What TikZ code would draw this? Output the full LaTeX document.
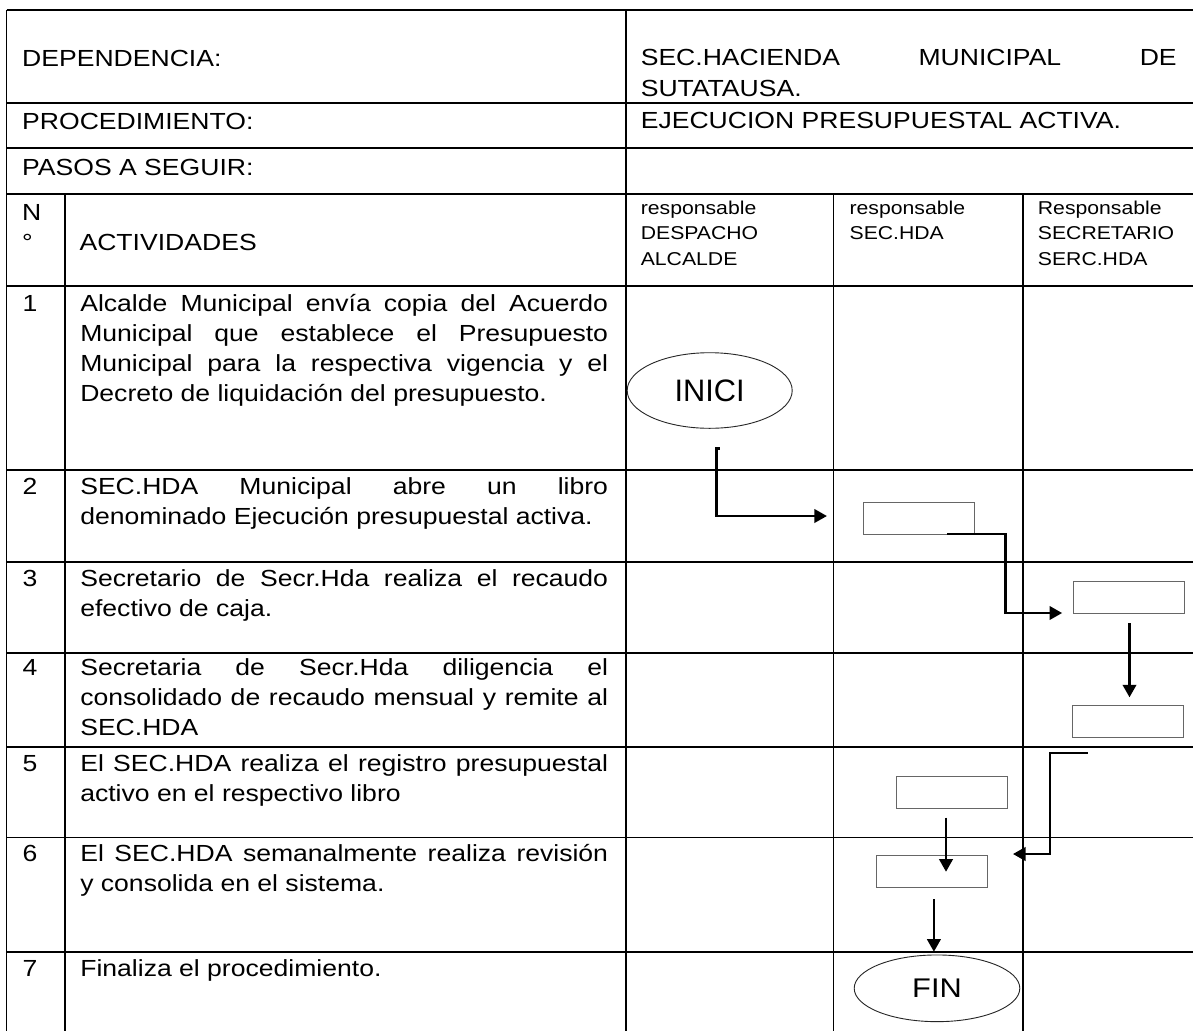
\documentclass[tikz,border=0pt]{standalone}
\usepackage{fontspec}
\setmainfont{Liberation Sans}[FakeStretch=1.14]
\usetikzlibrary{shapes.geometric,arrows.meta}
\newlength{\bodyw}\setlength{\bodyw}{527.8pt}
\newlength{\headw}\setlength{\headw}{535.9pt}
\newcommand{\jline}[1]{\makebox[\bodyw][s]{#1}}
\newcommand{\hjline}[1]{\makebox[\headw][s]{#1}}
\newcommand{\bodyfont}{\fontsize{23.3pt}{30pt}\selectfont}
\newcommand{\smallfont}{\fontsize{18.6pt}{25.7pt}\selectfont}
\newcommand{\colpar}[2]{\parbox[t]{#1}{\raggedright #2}}
\begin{document}
\begin{tikzpicture}[x=1pt,y=-1pt,
  grid/.style={line width=1.7pt, black},
  txt/.style={anchor=base west, inner sep=0pt, outer sep=0pt, font=\bodyfont},
  small/.style={anchor=base west, inner sep=0pt, outer sep=0pt, font=\smallfont},
  fbox/.style={draw=black!60, line width=1pt, minimum width=111pt, minimum height=31.6pt, inner sep=0pt},
  term/.style={ellipse, draw=black!85, line width=0.9pt, inner sep=0pt, font=\fontsize{27pt}{30pt}\selectfont},
  conn/.style={line width=2.2pt, -{Triangle[length=12.5pt,width=13.5pt]}}]
\useasboundingbox (0,0) rectangle (1193,1031);
\fill[white] (0,0) rectangle (1193,1031);

% ---------- table grid ----------
\foreach \yy in {10,102.7,148.3,194.3,285.7,470,561.7,653,746.7,837.5,952.3}
  \draw[grid] (6.5,\yy) -- (1193,\yy);
\draw[grid] (6.5,10) -- (6.5,1031);
\draw[grid] (625.7,10) -- (625.7,1031);
\draw[grid] (64.8,194.3) -- (64.8,1031);
\draw[grid] (833.5,194.3) -- (833.5,1031);
\draw[grid] (1022.8,194.3) -- (1022.8,1031);

% ---------- header texts ----------
\node[txt] (dep) at (22.2,66.7) {DEPENDENCIA:};
\node[txt] (dept) at (640.8,65) {\colpar{\headw}{\fontsize{23.3pt}{31.7pt}\selectfont\hjline{SEC.HACIENDA MUNICIPAL DE}\\SUTATAUSA.}};
\node[txt] (proc) at (22.2,129.3) {PROCEDIMIENTO:};
\node[txt] (proct) at (640.8,128.3) {EJECUCION PRESUPUESTAL ACTIVA.};
\node[txt] (pasos) at (22.2,175) {PASOS A SEGUIR:};
\node[txt] (nn) at (22.2,220.7) {N};
\node[txt] (deg) at (22.2,250.7) {°};
\node[txt] (act) at (79.6,250) {ACTIVIDADES};
\node[small] (r1) at (640.8,214) {\colpar{180pt}{responsable\\DESPACHO\\ALCALDE}};
\node[small] (r2) at (849.6,214) {\colpar{170pt}{responsable\\SEC.HDA}};
\node[small] (r3) at (1037.9,214) {\colpar{155pt}{Responsable\\SECRETARIO\\SERC.HDA}};

% ---------- rows ----------
\node[txt] (n1) at (22.5,311) {1};
\node[txt] (a1) at (80.3,311) {\colpar{\bodyw}{\jline{Alcalde Municipal envía copia del Acuerdo}\\
  \jline{Municipal que establece el Presupuesto}\\
  \jline{Municipal para la respectiva vigencia y el}\\
  Decreto de liquidación del presupuesto.}};
\node[txt] (n2) at (22.5,494.5) {2};
\node[txt] (a2) at (80.3,494.5) {\colpar{\bodyw}{\jline{SEC.HDA Municipal abre un libro}\\
  denominado Ejecución presupuestal activa.}};
\node[txt] (n3) at (22.5,586) {3};
\node[txt] (a3) at (80.3,586) {\colpar{\bodyw}{\jline{Secretario de Secr.Hda realiza el recaudo}\\
  efectivo de caja.}};
\node[txt] (n4) at (22.5,675) {4};
\node[txt] (a4) at (80.3,675) {\colpar{\bodyw}{\jline{Secretaria de Secr.Hda diligencia el}\\
  \jline{consolidado de recaudo mensual y remite al}\\
  SEC.HDA}};
\node[txt] (n5) at (22.5,771.7) {5};
\node[txt] (a5) at (80.3,771.7) {\colpar{\bodyw}{\jline{El SEC.HDA realiza el registro presupuestal}\\
  activo en el respectivo libro}};
\node[txt] (n6) at (22.5,861.7) {6};
\node[txt] (a6) at (80.3,861.7) {\colpar{\bodyw}{\jline{El SEC.HDA semanalmente realiza revisión}\\
  y consolida en el sistema.}};
\node[txt] (n7) at (22.5,976) {7};
\node[txt] (a7) at (80.3,976) {Finaliza el procedimiento.};

% ---------- flow shapes ----------
\node[term, minimum width=165pt, minimum height=75.6pt] (inici) at (709.7,390.5) {\raisebox{-2pt}{\scalebox{1}[1.15]{INICI}}};
\node[fbox] (bA) at (919.4,518.5) {};
\node[fbox] (bB) at (1128.9,597.5) {};
\node[fbox] (bC) at (1127.6,721.5) {};
\node[fbox] (bD) at (951.7,792.5) {};
\node[fbox, minimum height=32.3pt] (bE) at (932.2,871.2) {};
\node[term, minimum width=165.6pt, minimum height=66.7pt] (fin) at (937,988.3) {\raisebox{-3pt}{FIN}};

% ---------- connector end points ----------
\coordinate (k1a) at (719.5,448.5);
\coordinate (k1b) at (716.5,448.5);
\coordinate (k1c) at (826.9,516);
\coordinate (k2a) at (947.2,534.3);
\coordinate (k2b) at (1005.4,534.3);
\coordinate (k2c) at (1062.1,613);
\coordinate (k3a) at (1129.5,623.3);
\coordinate (k3b) at (1129.5,697.3);
\coordinate (k4a) at (1087.9,752.7);
\coordinate (k4b) at (1050,752.7);
\coordinate (k4c) at (1013,854);
\coordinate (k5a) at (946,817.7);
\coordinate (k5b) at (946,871.7);
\coordinate (k6a) at (933.9,899);
\coordinate (k6b) at (933.9,951.7);

% ---------- connectors ----------
\draw[conn] (k1a) -- (k1b) |- (k1c);
\draw[conn] (k2a) -- (k2b) |- (k2c);
\draw[conn] (k3a) -- (k3b);
\draw[conn] (k4a) -- (k4b) |- (k4c);
\draw[conn] (k5a) -- (k5b);
\draw[conn] (k6a) -- (k6b);
\end{tikzpicture}
\end{document}
